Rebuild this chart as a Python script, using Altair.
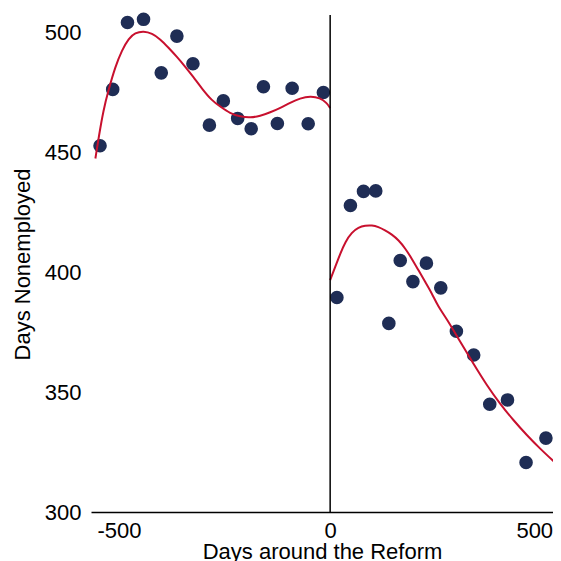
import altair as alt
import pandas as pd

# Binned scatter points (days around reform, days nonemployed)
left_x = [-545, -515, -480, -442, -400, -363, -325, -286, -253, -219, -187, -158, -125, -90, -52, -16]
left_y = [452.6, 476.1, 504.0, 505.3, 483.0, 498.3, 486.8, 461.2, 471.3, 464.0, 459.7, 477.2, 461.9, 476.6, 461.8, 474.8]
right_x = [16, 48, 79, 108, 139, 166, 196, 228, 262, 299, 340, 378, 420, 464, 511]
right_y = [389.4, 427.7, 433.6, 433.8, 378.6, 404.8, 396.0, 403.7, 393.4, 375.3, 365.4, 344.9, 346.7, 320.6, 330.8]

# Fitted curves
fit_left_x = [-556, -548, -537, -525, -509, -493, -477, -462, -442, -422, -402, -383, -363, -343,
              -324, -304, -280, -260, -237, -213, -189, -166, -142, -118, -95, -71, -47, -24, -8, 0]
fit_left_y = [447.3, 456.3, 467.5, 475.8, 485.5, 492.5, 497.4, 499.7, 500.4, 499.5, 497.0, 493.5, 489.7, 485.5,
              481.3, 476.5, 471.4, 468.9, 466.1, 464.7, 464.3, 465.0, 466.5, 468.4, 470.5, 472.4, 473.3, 472.6, 470.5, 468.3]
fit_right_x = [0, 12, 24, 36, 51, 67, 83, 99, 114, 130, 146, 162, 178, 193, 209, 225, 241, 256, 276,
               308, 339, 371, 402, 434, 466, 497, 535]
fit_right_y = [396.6, 402.1, 407.7, 412.6, 416.5, 418.6, 419.4, 419.5, 418.8, 417.4, 415.7, 413.3, 409.8, 405.7,
               400.8, 395.9, 391.1, 385.5, 380.6, 370.9, 361.9, 352.8, 345.2, 338.2, 332.0, 326.4, 320.2]

x_ticks = [-500, 0, 500]
y_ticks = [300, 350, 400, 450, 500]

FONT = "Liberation Sans"
DOT = "#1f2d55"
RED = "#c8102e"

pts = pd.DataFrame({"x": left_x + right_x, "y": left_y + right_y})
fit = pd.concat([
    pd.DataFrame({"x": fit_left_x, "y": fit_left_y, "side": "left"}),
    pd.DataFrame({"x": fit_right_x, "y": fit_right_y, "side": "right"}),
])
cut = pd.DataFrame({"x": [0]})

xscale = alt.Scale(domain=[-566.4, 527.8], nice=False, zero=False)
yscale = alt.Scale(domain=[300, 507.1], nice=False, zero=False)

xaxis = alt.Axis(
    title="Days around the Reform", values=x_ticks, ticks=False, grid=False,
    domain=True, domainColor="black", domainWidth=1.5,
    labelExpr="(datum.value < 0 ? '-' : '') + abs(datum.value)",
    labelOffset={"condition": {"test": "datum.value == 500", "value": -7}, "value": 0},
    labelFont=FONT, labelFontSize=22, labelColor="black", labelPadding=8, labelFlush=False,
    titleFont=FONT, titleFontSize=22, titleFontWeight="normal", titleColor="black",
    titleY=46, titleBaseline="alphabetic",
)
yaxis = alt.Axis(
    title="Days Nonemployed", values=y_ticks, ticks=False, grid=False, domain=False,
    labelFont=FONT, labelFontSize=22, labelColor="black", labelPadding=10,
    titleFont=FONT, titleFontSize=22, titleFontWeight="normal", titleColor="black",
    titleX=-69, titleY=249, titleBaseline="middle",
)

points = alt.Chart(pts).mark_circle(size=185, opacity=1, color=DOT).encode(
    x=alt.X("x:Q", scale=xscale, axis=xaxis),
    y=alt.Y("y:Q", scale=yscale, axis=yaxis),
)
lines = alt.Chart(fit).mark_line(color=RED, strokeWidth=2, interpolate="basis", clip=True).encode(
    x=alt.X("x:Q", scale=xscale),
    y=alt.Y("y:Q", scale=yscale),
    detail="side:N",
)
rule = alt.Chart(cut).mark_rule(color="black", strokeWidth=1.5).encode(
    x=alt.X("x:Q", scale=xscale),
)

chart = alt.layer(points, lines, rule).properties(
    width=462, height=497,
    autosize="none",
    padding={"left": 83, "top": 7, "right": 0, "bottom": 49},
    background="white",
).configure_view(stroke=None)

chart.save("out.html", embed_options={"renderer": "svg", "actions": False})
